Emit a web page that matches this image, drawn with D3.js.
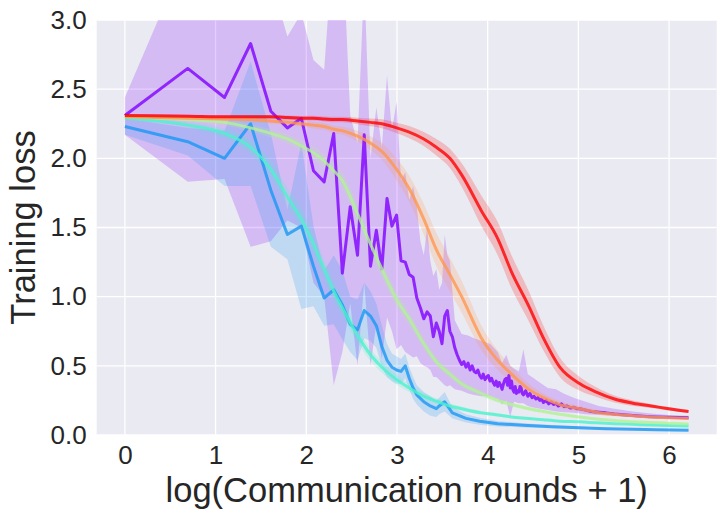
<!DOCTYPE html>
<html><head><meta charset="utf-8">
<script src="https://cdn.jsdelivr.net/npm/d3@7"></script>
<style>
body{margin:0;background:#fff}
svg{display:block}
text{font-family:"Liberation Sans",Arial,sans-serif;fill:#262626}
</style>
</head><body><svg id="c" width="726" height="519"></svg>
<script>
// ---------- data ----------
const xTicks = [0,1,2,3,4,5,6];
const yTicks = [0,0.5,1.0,1.5,2.0,2.5,3.0];
const xLabel = "log(Communication rounds + 1)";
const yLabel = "Training loss";

const smoothRounds = [0,1,2,3,4,5,6,7,8,9,10,12,14,16,19,22,26,30,35,40,50,60,70,85,100,120,150,180,220,270,330,400,499];
const redMean = [2.31,2.305,2.30,2.30,2.30,2.295,2.29,2.29,2.285,2.28,2.28,2.27,2.26,2.25,2.22,2.19,2.14,2.08,2.00,1.88,1.62,1.42,1.18,0.93,0.70,0.49,0.37,0.31,0.26,0.23,0.21,0.19,0.17];
const redErr = [0.01,0.01,0.012,0.013,0.014,0.015,0.016,0.017,0.018,0.02,0.02,0.024,0.028,0.032,0.038,0.044,0.05,0.06,0.07,0.085,0.11,0.12,0.12,0.11,0.09,0.07,0.05,0.035,0.025,0.02,0.015,0.012,0.01];
const orangeMean = [2.30,2.29,2.285,2.28,2.27,2.26,2.25,2.24,2.23,2.21,2.20,2.16,2.11,2.05,1.92,1.78,1.56,1.34,1.16,1.00,0.70,0.54,0.44,0.33,0.27,0.22,0.19,0.165,0.15,0.14,0.13,0.125,0.12];
const orangeErr = [0.01,0.012,0.014,0.016,0.018,0.02,0.022,0.024,0.026,0.028,0.03,0.04,0.05,0.06,0.08,0.095,0.11,0.12,0.12,0.115,0.09,0.07,0.055,0.04,0.03,0.025,0.02,0.017,0.014,0.012,0.01,0.01,0.01];
const greenMean = [2.30,2.28,2.26,2.22,2.18,2.14,2.09,2.04,1.98,1.91,1.84,1.60,1.38,1.20,0.98,0.84,0.66,0.53,0.44,0.37,0.30,0.25,0.22,0.19,0.17,0.15,0.13,0.115,0.105,0.095,0.09,0.085,0.08];
const greenErr = [0.01,0.015,0.02,0.025,0.03,0.035,0.04,0.045,0.05,0.055,0.06,0.065,0.065,0.06,0.055,0.05,0.04,0.035,0.03,0.025,0.02,0.017,0.014,0.012,0.01,0.009,0.008,0.007,0.006,0.006,0.005,0.005,0.005];
const cyanMean = [2.29,2.24,2.18,2.08,1.92,1.72,1.56,1.38,1.20,1.04,0.92,0.72,0.58,0.49,0.40,0.34,0.28,0.245,0.21,0.19,0.16,0.145,0.13,0.12,0.11,0.10,0.095,0.088,0.082,0.077,0.072,0.068,0.065];
const cyanErr = [0.01,0.02,0.035,0.05,0.06,0.07,0.075,0.075,0.07,0.065,0.06,0.05,0.045,0.04,0.035,0.03,0.025,0.02,0.018,0.016,0.013,0.011,0.01,0.009,0.008,0.007,0.006,0.006,0.005,0.005,0.005,0.005,0.005];

const blueRounds = [0,1,2,3,4,5,6,7,8,9,10,11,12,13,14,15,16,17,18,19,20,21,22,23,24,26,28,30,31,33,36,42,49,60,80,110,150,200,270,350,499];
const blueMean = [2.23,2.12,2.00,2.25,1.77,1.45,1.51,1.22,0.99,1.05,0.94,0.80,0.76,0.90,0.86,0.79,0.64,0.54,0.49,0.47,0.46,0.50,0.41,0.34,0.29,0.24,0.21,0.19,0.21,0.24,0.16,0.12,0.10,0.082,0.07,0.06,0.052,0.046,0.041,0.038,0.035];
const blueErr = [0.06,0.1,0.2,0.45,0.41,0.18,0.6,0.29,0.2,0.25,0.25,0.2,0.22,0.2,0.18,0.16,0.15,0.12,0.1,0.1,0.09,0.09,0.08,0.08,0.07,0.07,0.07,0.06,0.06,0.07,0.04,0.03,0.025,0.02,0.015,0.012,0.01,0.008,0.006,0.005,0.005];

const purpleRounds = [0,1,2,3,4,5,6,7,8,9,10,11,12,13,14,15,16,17,18,19,20,21,22,23,24,25,26,27,28,29,30,31,32,33,34,35,36,37,38,39,
  40,41,42,43,44,45,46,47,48,49,50,51,52,53,54,55,56,57,58,59,
  60,61,62,63,64,65,66,67,68,69,70,71,72,73,74,75,76,77,78,79,80,82,84,86,88,90,92,94,96,98,100,103,106,109,112,115,118,122,126,130,135,140,145,150,160,170,185,200,220,250,280,313,350,400,450,499];
const purpleMean = [2.31,2.65,2.44,2.83,2.34,2.22,2.29,1.91,1.83,2.18,1.17,1.65,1.30,2.17,1.22,1.48,1.20,1.71,1.51,1.59,1.26,1.25,1.16,1.14,0.99,0.92,0.84,0.89,0.86,0.71,0.81,0.75,0.66,0.86,0.90,0.75,0.71,0.63,0.58,0.54,
  0.51,0.53,0.49,0.52,0.47,0.50,0.46,0.45,0.47,0.43,0.41,0.44,0.40,0.42,0.43,0.39,0.41,0.38,0.36,0.39,
  0.35,0.38,0.36,0.33,0.37,0.40,0.41,0.36,0.43,0.34,0.39,0.33,0.31,0.35,0.30,0.32,0.31,0.35,0.34,0.30,0.29,
  0.32,0.28,0.30,0.27,0.28,0.26,0.27,0.25,0.26,0.235,0.25,0.225,0.24,0.22,0.23,0.21,0.225,0.205,0.21,0.195,0.2,0.19,0.19,
  0.18,0.17,0.165,0.16,0.152,0.145,0.14,0.133,0.13,0.128,0.126,0.125];
const purpleBandRounds = [0,1,2,3,4,5,6,7,8,9,10,11,12,13,14,15,16,17,18,19,20,21,22,23,24,25,26,27,28,29,30,31,32,33,34,35,37,40,43,46,50,55,60,63,66,69,72,76,80,84,88,96,105,115,125,140,160,185,220,270,330,400,499];
const purpleHi = [2.44,3.5,3.0,3.6,3.3,2.88,3.05,2.71,2.64,3.6,3.6,2.31,2.11,3.3,2.0,2.37,2.08,2.60,2.20,2.41,1.84,1.90,1.70,1.80,1.65,1.40,1.30,1.50,1.26,1.15,1.20,1.05,1.10,1.45,1.30,1.26,0.83,0.73,0.72,0.70,0.68,0.66,0.60,0.52,0.58,0.50,0.48,0.46,0.62,0.44,0.42,0.38,0.34,0.33,0.30,0.27,0.24,0.21,0.19,0.17,0.155,0.145,0.14];
const purpleLo = [2.17,1.83,1.85,1.36,1.40,1.55,1.50,1.10,1.00,0.36,0.60,0.95,0.50,1.10,0.50,0.80,0.55,0.85,0.75,0.62,0.65,0.60,0.58,0.56,0.57,0.52,0.50,0.49,0.47,0.42,0.42,0.40,0.38,0.36,0.35,0.36,0.33,0.32,0.30,0.29,0.28,0.28,0.26,0.22,0.25,0.13,0.24,0.23,0.23,0.21,0.20,0.19,0.18,0.17,0.165,0.16,0.15,0.145,0.14,0.13,0.125,0.12,0.115];

const seriesColors = ["#8000ff","#1996f3","#4cf2ce","#b2f296","#ff964f","#ff0000"];

// ---------- layout ----------
const L = 96.7, R = 716.7, T = 20, B = 435;
const svg = d3.select("#c");
const x = d3.scaleLinear().domain([-0.3107, 6.5253]).range([L, R]);
const y = d3.scaleLinear().domain([0, 3]).range([B, T]);
const lx = r => x(Math.log(r + 1));

svg.append("rect").attr("x", L).attr("y", T).attr("width", R - L).attr("height", B - T).attr("fill", "#eaeaf2");

const grid = svg.append("g");
grid.selectAll(".gx").data(xTicks).join("line")
  .attr("x1", d => x(d)).attr("x2", d => x(d)).attr("y1", T).attr("y2", B)
  .attr("stroke", "#fff").attr("stroke-width", 1.3);
grid.selectAll(".gy").data(yTicks).join("line")
  .attr("x1", L).attr("x2", R).attr("y1", d => y(d)).attr("y2", d => y(d))
  .attr("stroke", "#fff").attr("stroke-width", 1.3);

svg.append("clipPath").attr("id", "clip").append("rect")
  .attr("x", L).attr("y", T).attr("width", R - L).attr("height", B - T);

function sym(rounds, mean, err) {
  return rounds.map((r, i) => ({ r, m: mean[i], lo: mean[i] - err[i], hi: mean[i] + err[i] }));
}
const series = [
  { c: seriesColors[0], line: purpleRounds.map((r, i) => ({ r, m: purpleMean[i] })),
    band: purpleBandRounds.map((r, i) => ({ r, lo: purpleLo[i], hi: purpleHi[i] })), curve: d3.curveLinear },
  { c: seriesColors[1], line: sym(blueRounds, blueMean, blueErr), band: sym(blueRounds, blueMean, blueErr), curve: d3.curveLinear },
  { c: seriesColors[2], line: sym(smoothRounds, cyanMean, cyanErr), band: sym(smoothRounds, cyanMean, cyanErr), curve: d3.curveMonotoneX },
  { c: seriesColors[3], line: sym(smoothRounds, greenMean, greenErr), band: sym(smoothRounds, greenMean, greenErr), curve: d3.curveMonotoneX },
  { c: seriesColors[4], line: sym(smoothRounds, orangeMean, orangeErr), band: sym(smoothRounds, orangeMean, orangeErr), curve: d3.curveMonotoneX },
  { c: seriesColors[5], line: sym(smoothRounds, redMean, redErr), band: sym(smoothRounds, redMean, redErr), curve: d3.curveMonotoneX }
];

const plot = svg.append("g").attr("clip-path", "url(#clip)");
series.forEach(s => {
  plot.append("path").datum(s.band)
    .attr("d", d3.area().x(d => lx(d.r)).y0(d => y(d.lo)).y1(d => y(d.hi)).curve(s.curve))
    .attr("fill", s.c).attr("fill-opacity", 0.2).attr("stroke", "none");
});
series.forEach(s => {
  plot.append("path").datum(s.line)
    .attr("d", d3.line().x(d => lx(d.r)).y(d => y(d.m)).curve(s.curve))
    .attr("fill", "none").attr("stroke", s.c).attr("stroke-opacity", 0.8)
    .attr("stroke-width", 3).attr("stroke-linejoin", "round").attr("stroke-linecap", "butt");
});

// ---------- axes ----------
const ax = svg.append("g").attr("transform", `translate(0,${B})`)
  .call(d3.axisBottom(x).tickValues(xTicks).tickSize(0).tickPadding(11).tickFormat(d3.format("d")));
const ay = svg.append("g").attr("transform", `translate(${L},0)`)
  .call(d3.axisLeft(y).tickValues(yTicks).tickSize(0).tickPadding(10).tickFormat(d3.format(".1f")));
[ax, ay].forEach(a => {
  a.select(".domain").remove();
  a.selectAll("text").attr("font-size", 26).attr("font-family", '"Liberation Sans",Arial,sans-serif').attr("fill", "#262626");
});

svg.append("text").attr("x", (L + R) / 2).attr("y", 502).attr("text-anchor", "middle")
  .attr("font-size", 34.5).text(xLabel);
svg.append("text").attr("transform", `translate(35,${(T + B) / 2}) rotate(-90)`).attr("text-anchor", "middle")
  .attr("font-size", 34.5).text(yLabel);
</script>
</body></html>
